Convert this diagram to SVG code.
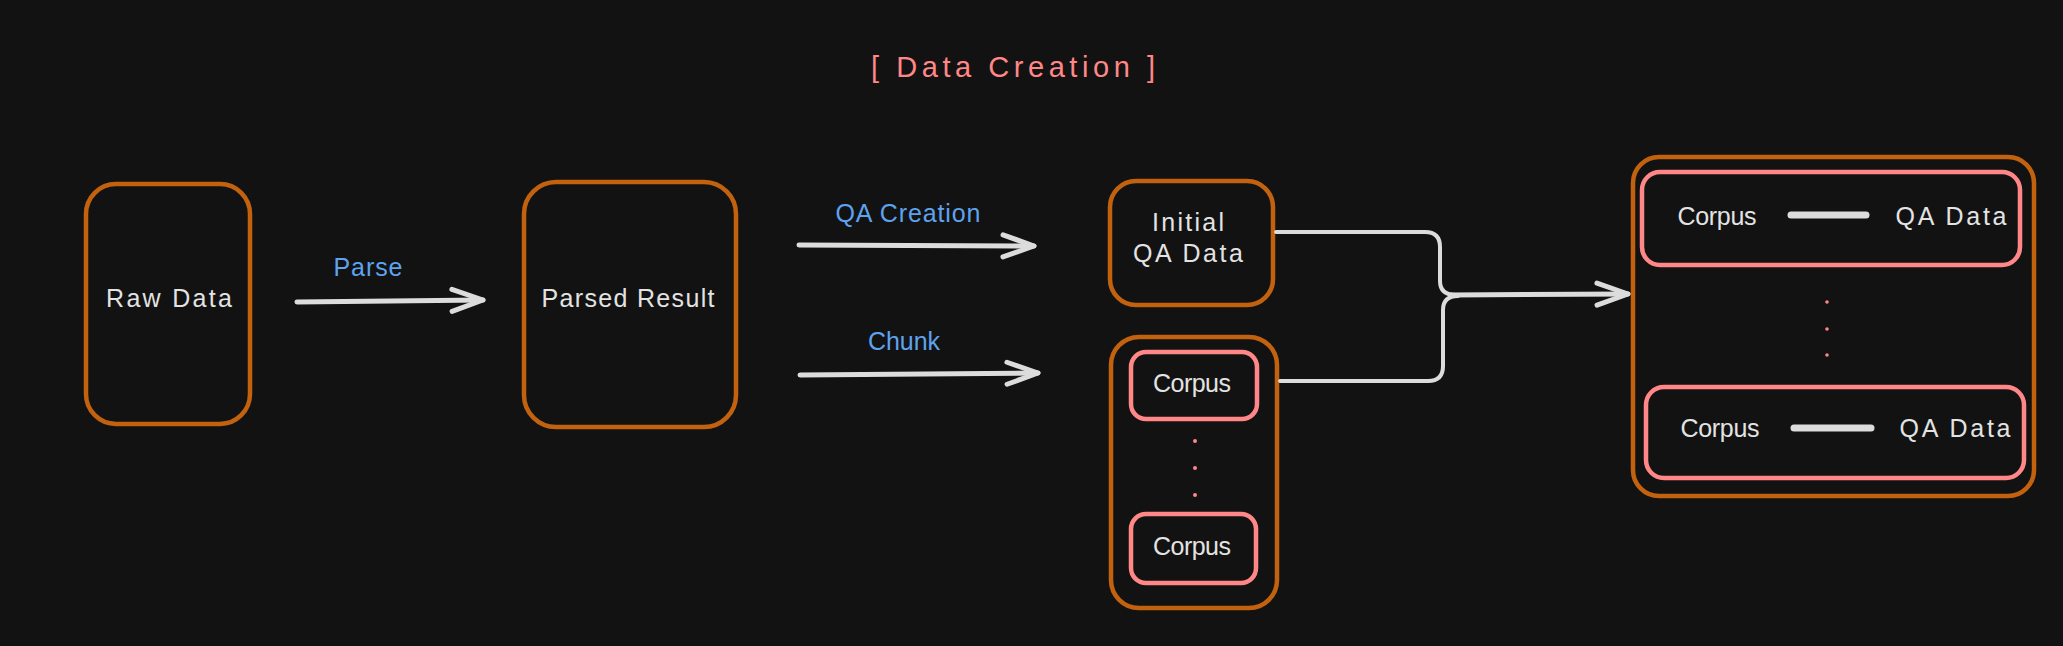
<svg xmlns="http://www.w3.org/2000/svg" width="2063" height="646" viewBox="0 0 2063 646">
<style>
text{font-family:"Liberation Sans","DejaVu Sans",sans-serif;text-anchor:middle;}
.t{fill:#e3e3e3;font-size:25px;}
.lbl{fill:#5ea3ee;font-size:25px;}
.title{fill:#ff8787;font-size:29px;}
.ob{fill:none;stroke:#c2620e;stroke-width:4.5;}
.pb{fill:none;stroke:#ff8787;stroke-width:4.5;}
.ar{fill:none;stroke:#dcdcdc;stroke-width:5;stroke-linecap:round;stroke-linejoin:round;}
.cn{fill:none;stroke:#dcdcdc;stroke-width:4;stroke-linecap:round;stroke-linejoin:round;}
.dot{fill:#ff8787;}
.bar{stroke:#dcdcdc;stroke-width:7;stroke-linecap:round;}
</style>
<defs>
<marker id="head" markerUnits="userSpaceOnUse" viewBox="-40 -18 46 36" markerWidth="46" markerHeight="36" refX="0" refY="0" orient="auto">
<path d="M-31,-11 L0,0 L-31,11" fill="none" stroke="#dcdcdc" stroke-width="5" stroke-linecap="round" stroke-linejoin="round"/>
</marker>
</defs>
<rect width="2063" height="646" fill="#121212"/>

<g id="title">
<text class="title" x="1013" y="77" textLength="284" lengthAdjust="spacing">[ Data Creation ]</text>
</g>

<g id="raw-data">
<rect class="ob" x="86" y="184" width="164" height="240" rx="30"/>
<text class="t" x="169" y="307" textLength="126" lengthAdjust="spacing">Raw Data</text>
</g>

<g id="parsed-result">
<rect class="ob" x="524" y="182" width="212" height="245" rx="32"/>
<text class="t" x="628" y="307" textLength="173" lengthAdjust="spacing">Parsed Result</text>
</g>

<g id="initial-qa">
<rect class="ob" x="1110" y="181" width="163" height="124" rx="26"/>
<text class="t" x="1188" y="231" textLength="72" lengthAdjust="spacing">Initial</text>
<text class="t" x="1188" y="262" textLength="110" lengthAdjust="spacing">QA Data</text>
</g>

<g id="chunks">
<rect class="ob" x="1111" y="337" width="166" height="271" rx="28"/>
<g id="corpus-1">
<rect class="pb" x="1131" y="352" width="126" height="67" rx="15"/>
<text class="t" x="1192" y="392" textLength="78" lengthAdjust="spacing">Corpus</text>
</g>
<circle class="dot" cx="1195" cy="441" r="2"/>
<circle class="dot" cx="1195" cy="468" r="2"/>
<circle class="dot" cx="1195" cy="495" r="2"/>
<g id="corpus-2">
<rect class="pb" x="1131" y="514" width="125" height="69" rx="15"/>
<text class="t" x="1192" y="555" textLength="78" lengthAdjust="spacing">Corpus</text>
</g>
</g>

<g id="result">
<rect class="ob" x="1633" y="157" width="401" height="339" rx="26"/>
<g id="pair-1">
<rect class="pb" x="1642" y="172" width="378" height="93" rx="18"/>
<text class="t" x="1717" y="225" textLength="79" lengthAdjust="spacing">Corpus</text>
<line class="bar" x1="1791" y1="215" x2="1866" y2="215"/>
<text class="t" x="1951" y="225" textLength="111" lengthAdjust="spacing">QA Data</text>
</g>
<circle class="dot" cx="1827" cy="302" r="1.8"/>
<circle class="dot" cx="1827" cy="329" r="1.8"/>
<circle class="dot" cx="1827" cy="355" r="1.8"/>
<g id="pair-2">
<rect class="pb" x="1646" y="387" width="378" height="91" rx="18"/>
<text class="t" x="1720" y="437" textLength="79" lengthAdjust="spacing">Corpus</text>
<line class="bar" x1="1794" y1="428" x2="1871" y2="428"/>
<text class="t" x="1955" y="437" textLength="111" lengthAdjust="spacing">QA Data</text>
</g>
</g>

<g id="connectors">
<path class="ar" d="M297,302 L483,300" marker-end="url(#head)"/>
<text class="lbl" x="368" y="276" textLength="69" lengthAdjust="spacing">Parse</text>
<path class="ar" d="M799,245 L1034,246" marker-end="url(#head)"/>
<text class="lbl" x="908" y="222" textLength="145" lengthAdjust="spacing">QA Creation</text>
<path class="ar" d="M800,375 L1038,373" marker-end="url(#head)"/>
<text class="lbl" x="904" y="350" textLength="72" lengthAdjust="spacing">Chunk</text>
<path class="cn" d="M1276,232 H1425 Q1440,232 1440,247 V281 Q1440,295 1456,295"/>
<path class="cn" d="M1280,381 H1428 Q1443,381 1443,366 V310 Q1443,296 1458,296"/>
<path class="ar" d="M1450,295 L1628,294" marker-end="url(#head)"/>
</g>
</svg>
